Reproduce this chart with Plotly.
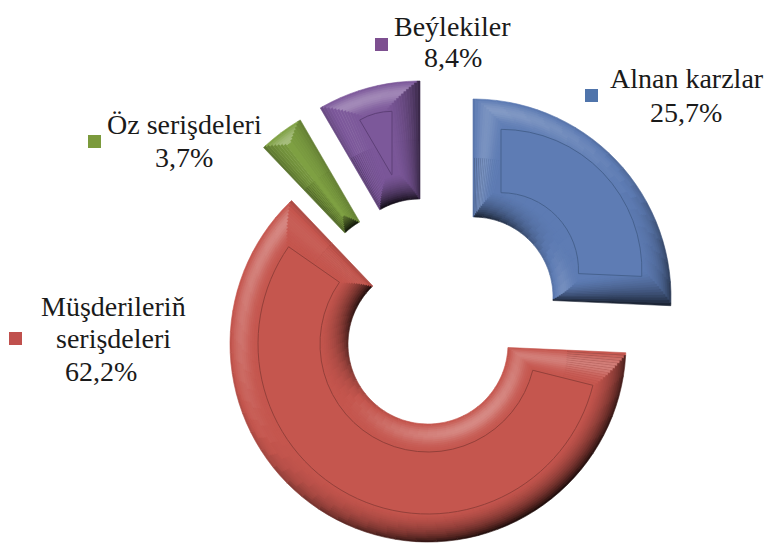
import math
import plotly.graph_objects as go

# ---- data ----
categories = ["Alnan karzlar", "Müşderileriň serişdeleri", "Öz serişdeleri", "Beýlekiler"]
shares = [25.7, 62.2, 3.7, 8.4]
share_labels = ["25,7%", "62,2%", "3,7%", "8,4%"]

# ---- styling / layout ----
W, H = 768, 543
FONT = "Liberation Serif"
base_colors = [(94, 124, 180), (197, 86, 78), (126, 160, 66), (124, 88, 154)]
legend_colors = ["#4F74AB", "#C0504D", "#7B9A3C", "#7D4F90"]
line_colors = ["#46628F", "#94403A", "#5F7A30", "#5E4078"]
apexes = [(473, 297), (428, 344), (400, 291), (420, 279)]
R_OUT, R_IN, R_MID = 198, 80, 139
STEP, FACE_DEPTH = 2.0, 28
LIGHT = (-0.55, -0.83)
squares = [(585, 89), (9, 332), (88, 135), (375, 38)]
SQ = 13
text_rows = [
    ("Alnan karzlar", 687, 79), ("25,7%", 686, 112),
    ("Müşderileriň", 113, 306), ("serişdeleri", 113, 338), ("62,2%", 101, 371),
    ("Öz serişdeleri", 184, 125), ("3,7%", 184, 157),
    ("Beýlekiler", 452, 27), ("8,4%", 453, 58),
]
CLEAR = "rgba(0,0,0,0)"


def rgb(c):
    return "rgb(%d,%d,%d)" % tuple(int(max(0, min(255, v))) for v in c)


def shade(base, n, t):
    b = n[0] * LIGHT[0] + n[1] * LIGHT[1]
    if b > 0:
        lit = b * math.exp(-(((t - 0.35) / 0.32) ** 2))
    else:
        lit = b * (1 - t) ** 1.5
    lit -= 0.22 * (1 - t) ** 5
    if lit > 0:
        return tuple(v + (255 - v) * 0.32 * lit for v in base)
    return tuple(v * (1 + 0.68 * lit) for v in base)


def sector(apex, r_out, r_in, start, sweep, colors_and_widths, line=None, lw=0.6):
    cx, cy = apex
    vals = [w for _, w in colors_and_widths] + [360 - sweep]
    cols = [c for c, _ in colors_and_widths] + [CLEAR]
    lcols = [line or c for c, _ in colors_and_widths] + [CLEAR]
    lws = [lw] * len(colors_and_widths) + [0]
    return go.Pie(
        values=vals, sort=False, direction="clockwise", rotation=start,
        hole=r_in / r_out, textinfo="none", hoverinfo="skip", showlegend=False,
        marker=dict(colors=cols, line=dict(color=lcols, width=lws)),
        domain=dict(x=[(cx - r_out) / W, (cx + r_out) / W],
                    y=[1 - (cy + r_out) / H, 1 - (cy - r_out) / H]),
    )


fig = go.Figure()
start = 0.0
for share, base, line_c, apex in zip(shares, base_colors, line_colors, apexes):
    sweep = share * 3.6
    end = start + sweep
    d_ang = math.degrees(STEP / R_MID)
    n_start = (-math.cos(math.radians(start)), -math.sin(math.radians(start)))
    n_end = (math.cos(math.radians(end)), math.sin(math.radians(end)))
    k = 0
    depth = 0.0
    while depth < FACE_DEPTH:
        inset = math.degrees(depth / R_MID)
        s_k = sweep - 2 * inset
        if s_k <= 2 * d_ang + 0.5:
            break
        t = depth / FACE_DEPTH
        middle = s_k - 2 * d_ang
        n_seg = max(1, int(round(middle / 6)))
        for part in ("outer", "inner"):
            segs = [(rgb(shade(base, n_start, t)), d_ang)]
            for i in range(n_seg):
                th = math.radians(start + inset + d_ang + (i + 0.5) * middle / n_seg)
                sign = 1 if part == "outer" else -1
                n = (sign * math.sin(th), -sign * math.cos(th))
                segs.append((rgb(shade(base, n, t)), middle / n_seg))
            segs.append((rgb(shade(base, n_end, t)), d_ang))
            if part == "outer":
                fig.add_trace(sector(apex, R_OUT - depth, R_MID, start + inset, s_k, segs))
            else:
                fig.add_trace(sector(apex, R_MID, R_IN + depth, start + inset, s_k, segs))
        k += 1
        depth = k * STEP
    # flat top face of the slice
    if 20 <= sweep <= 120 and depth >= FACE_DEPTH:
        # sides of the face run parallel to the slice's straight edges
        half = math.radians(sweep / 2)
        shift = depth / math.sin(half)
        mid = math.radians(start + sweep / 2)
        face_apex = (apex[0] + shift * math.sin(mid), apex[1] - shift * math.cos(mid))
        r_o = math.sqrt((R_OUT - depth) ** 2 - depth ** 2) - shift * math.cos(half)
        r_i = max(0.0, math.sqrt((R_IN + depth) ** 2 - depth ** 2) - shift * math.cos(half))
        fig.add_trace(sector(face_apex, r_o, r_i, start, sweep,
                             [(rgb(base), sweep)], line=line_c, lw=1))
    else:
        inset = math.degrees(depth / R_MID)
        s_f = sweep - 2 * inset
        if s_f > 0.2:
            outline = line_c if depth >= FACE_DEPTH else rgb(base)
            fig.add_trace(sector(apex, R_OUT - depth, R_IN + depth, start + inset, s_f,
                                 [(rgb(base), s_f)], line=outline, lw=1))
    start = end

shapes = [
    dict(type="rect", xref="paper", yref="paper", x0=x / W, x1=(x + SQ) / W,
         y0=1 - (y + SQ) / H, y1=1 - y / H, fillcolor=c, line=dict(width=0))
    for (x, y), c in zip(squares, legend_colors)
]
annotations = [
    dict(text=t, x=x / W, y=1 - y / H, xref="paper", yref="paper", xanchor="center",
         yanchor="middle", showarrow=False, font=dict(family=FONT, size=28, color="#1a1a1a"))
    for t, x, y in text_rows
]
fig.update_layout(width=W, height=H, margin=dict(l=0, r=0, t=0, b=0),
                  paper_bgcolor="white", showlegend=False,
                  shapes=shapes, annotations=annotations)
fig.write_html("out.html", config=dict(displayModeBar=False),
               post_script="document.body.style.margin='0';document.documentElement.style.overflow='hidden';")
